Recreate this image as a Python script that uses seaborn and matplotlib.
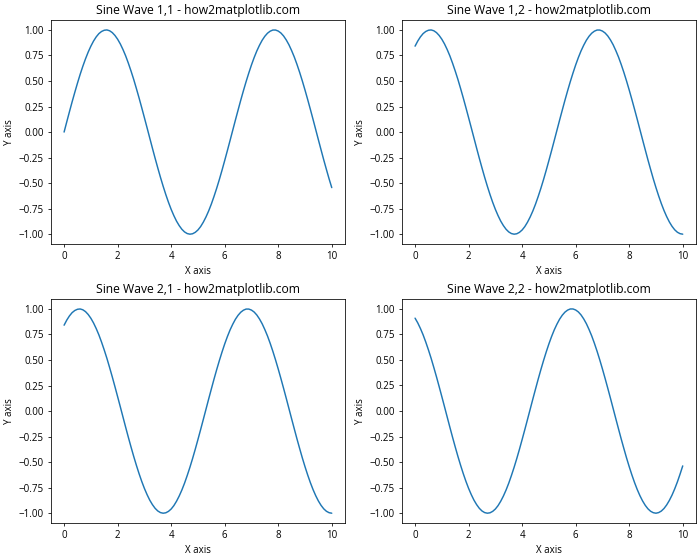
import matplotlib
matplotlib.use("Agg")
import matplotlib.pyplot as plt
import seaborn as sns

x_vals = [0.0, 0.1, 0.2, 0.3, 0.4, 0.5, 0.6, 0.7, 0.8, 0.9,
          1.0, 1.1, 1.2, 1.3, 1.4, 1.5, 1.6, 1.7, 1.8, 1.9,
          2.0, 2.1, 2.2, 2.3, 2.4, 2.5, 2.6, 2.7, 2.8, 2.9,
          3.0, 3.1, 3.2, 3.3, 3.4, 3.5, 3.6, 3.7, 3.8, 3.9,
          4.0, 4.1, 4.2, 4.3, 4.4, 4.5, 4.6, 4.7, 4.8, 4.9,
          5.0, 5.1, 5.2, 5.3, 5.4, 5.5, 5.6, 5.7, 5.8, 5.9,
          6.0, 6.1, 6.2, 6.3, 6.4, 6.5, 6.6, 6.7, 6.8, 6.9,
          7.0, 7.1, 7.2, 7.3, 7.4, 7.5, 7.6, 7.7, 7.8, 7.9,
          8.0, 8.1, 8.2, 8.3, 8.4, 8.5, 8.6, 8.7, 8.8, 8.9,
          9.0, 9.1, 9.2, 9.3, 9.4, 9.5, 9.6, 9.7, 9.8, 9.9,
          10.0]

# wave starting at 0
wave_a = [0.000, 0.100, 0.199, 0.296, 0.389, 0.479, 0.565, 0.644, 0.717, 0.783,
          0.841, 0.891, 0.932, 0.964, 0.985, 0.997, 1.000, 0.992, 0.974, 0.946,
          0.909, 0.863, 0.808, 0.746, 0.675, 0.598, 0.516, 0.427, 0.335, 0.239,
          0.141, 0.042, -0.058, -0.158, -0.256, -0.351, -0.443, -0.530, -0.612, -0.688,
          -0.757, -0.818, -0.872, -0.916, -0.952, -0.978, -0.994, -1.000, -0.996, -0.982,
          -0.959, -0.926, -0.883, -0.832, -0.773, -0.706, -0.631, -0.551, -0.465, -0.374,
          -0.279, -0.182, -0.083, 0.017, 0.117, 0.215, 0.312, 0.405, 0.494, 0.578,
          0.657, 0.729, 0.794, 0.850, 0.899, 0.938, 0.968, 0.988, 0.999, 0.999,
          0.989, 0.970, 0.941, 0.902, 0.855, 0.798, 0.735, 0.663, 0.585, 0.501,
          0.412, 0.319, 0.223, 0.125, 0.025, -0.075, -0.174, -0.272, -0.366, -0.458,
          -0.544]

# wave starting at 0.84
wave_b = [0.841, 0.891, 0.932, 0.964, 0.985, 0.997, 1.000, 0.992, 0.974, 0.946,
          0.909, 0.863, 0.808, 0.746, 0.675, 0.598, 0.516, 0.427, 0.335, 0.239,
          0.141, 0.042, -0.058, -0.158, -0.256, -0.351, -0.443, -0.530, -0.612, -0.688,
          -0.757, -0.818, -0.872, -0.916, -0.952, -0.978, -0.994, -1.000, -0.996, -0.982,
          -0.959, -0.926, -0.883, -0.832, -0.773, -0.706, -0.631, -0.551, -0.465, -0.374,
          -0.279, -0.182, -0.083, 0.017, 0.117, 0.215, 0.312, 0.405, 0.494, 0.578,
          0.657, 0.729, 0.794, 0.850, 0.899, 0.938, 0.968, 0.988, 0.999, 0.999,
          0.989, 0.970, 0.941, 0.902, 0.855, 0.798, 0.735, 0.663, 0.585, 0.501,
          0.412, 0.319, 0.223, 0.125, 0.025, -0.075, -0.174, -0.272, -0.366, -0.458,
          -0.544, -0.625, -0.700, -0.768, -0.828, -0.880, -0.923, -0.957, -0.981, -0.995,
          -1.000]

# wave starting at 0.91
wave_c = [0.909, 0.863, 0.808, 0.746, 0.675, 0.598, 0.516, 0.427, 0.335, 0.239,
          0.141, 0.042, -0.058, -0.158, -0.256, -0.351, -0.443, -0.530, -0.612, -0.688,
          -0.757, -0.818, -0.872, -0.916, -0.952, -0.978, -0.994, -1.000, -0.996, -0.982,
          -0.959, -0.926, -0.883, -0.832, -0.773, -0.706, -0.631, -0.551, -0.465, -0.374,
          -0.279, -0.182, -0.083, 0.017, 0.117, 0.215, 0.312, 0.405, 0.494, 0.578,
          0.657, 0.729, 0.794, 0.850, 0.899, 0.938, 0.968, 0.988, 0.999, 0.999,
          0.989, 0.970, 0.941, 0.902, 0.855, 0.798, 0.735, 0.663, 0.585, 0.501,
          0.412, 0.319, 0.223, 0.125, 0.025, -0.075, -0.174, -0.272, -0.366, -0.458,
          -0.544, -0.625, -0.700, -0.768, -0.828, -0.880, -0.923, -0.957, -0.981, -0.995,
          -1.000, -0.994, -0.979, -0.954, -0.919, -0.875, -0.823, -0.762, -0.694, -0.618,
          -0.537]

panel_titles = ["Sine Wave 1,1 - how2matplotlib.com", "Sine Wave 1,2 - how2matplotlib.com",
                "Sine Wave 2,1 - how2matplotlib.com", "Sine Wave 2,2 - how2matplotlib.com"]
panel_waves = [wave_a, wave_b, wave_b, wave_c]

sns.set_style("ticks", rc={"axes.edgecolor": "black", "xtick.color": "black",
                           "ytick.color": "black", "text.color": "black",
                           "axes.labelcolor": "black"})
plt.rcParams['font.family'] = ['Open Sans', 'DejaVu Sans']

fig, axes = plt.subplots(2, 2, figsize=(10, 8), dpi=70)
for ax, title, wave in zip(axes.flat, panel_titles, panel_waves):
    sns.lineplot(x=x_vals, y=wave, ax=ax, color="#1f77b4", linewidth=1.5)
    ax.set_title(title, fontsize=12.5)
    ax.set_xlabel("X axis", fontsize=10)
    ax.set_ylabel("Y axis", fontsize=10)
    ax.tick_params(labelsize=10)
    ax.set_yticks([-1.0, -0.75, -0.5, -0.25, 0.0, 0.25, 0.5, 0.75, 1.0])

plt.tight_layout(pad=0.4, h_pad=0.6, w_pad=1.0)
plt.savefig("out.png")
